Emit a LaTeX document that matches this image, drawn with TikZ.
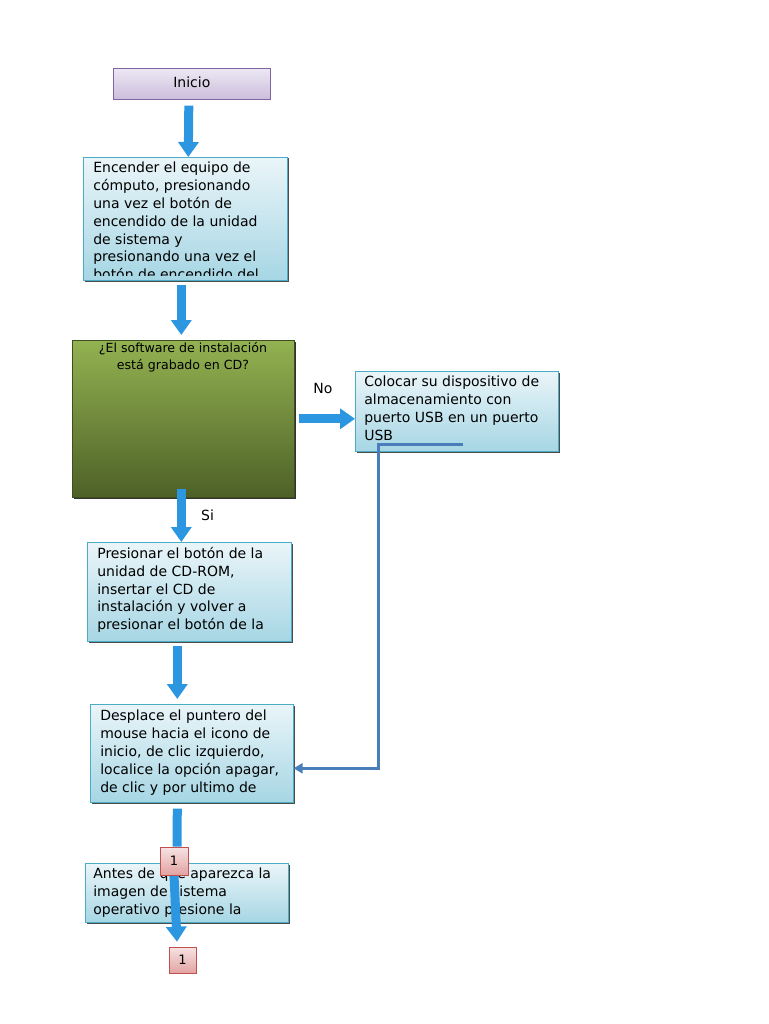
\documentclass[tikz,border=0pt]{standalone}
\usepackage{fontspec}
\setmainfont{DejaVu Sans}
\usepackage{tikz}
\usetikzlibrary{arrows.meta,shadows}
\definecolor{boxline}{HTML}{4BACC6}
\definecolor{boxtop}{HTML}{EAF5F9}
\definecolor{boxbot}{HTML}{A6D6E4}
\definecolor{flowblue}{HTML}{2C96E1}
\definecolor{linkblue}{HTML}{4A7EBB}
\definecolor{lilatop}{HTML}{EDE8F4}
\definecolor{lilabot}{HTML}{CBBEDC}
\definecolor{lilaline}{HTML}{8064A2}
\definecolor{greentop}{HTML}{93B251}
\definecolor{greenbot}{HTML}{4D6127}
\definecolor{pinktop}{HTML}{F7E3E3}
\definecolor{pinkbot}{HTML}{E2A3A2}
\definecolor{pinkline}{HTML}{C0504D}

\begin{document}
\begin{tikzpicture}[x=1pt,y=-1pt,semithick,
  stepbox/.style={draw=boxline,top color=boxtop,bottom color=boxbot,anchor=north west,inner sep=0pt,
    general shadow={shadow xshift=1.2pt,shadow yshift=-1.2pt,fill=black!70}},
  steptext/.style={anchor=north west,inner sep=0pt,align=left,font=\fontsize{14}{17.8}\selectfont},
  pagebox/.style={draw=pinkline,top color=pinktop,bottom color=pinkbot,inner sep=0pt,font=\fontsize{13}{14}\selectfont},
  bigarrow/.style={draw=flowblue,line width=9pt,-{Triangle[width=20pt,length=15pt]}},
  bigline/.style={draw=flowblue,line width=9pt},
  link/.style={draw=linkblue,line width=3pt,-{Triangle[width=10pt,length=9pt]}}]
\useasboundingbox (0,0) rectangle (768,1024);

% inicio
\node[draw=lilaline,top color=lilatop,bottom color=lilabot,anchor=north west,minimum width=157pt,
  minimum height=31pt,font=\fontsize{14}{15}\selectfont] (start) at (113,68) {\raisebox{3pt}{Inicio}};

% encender
\node[stepbox,minimum width=204pt,minimum height=123pt] (b1) at (83,157) {};
\begin{scope}
\clip (b1.north west) rectangle ([yshift=5pt]b1.south east);
\node[steptext] (t1) at (93,162) {Encender el equipo de\\cómputo, presionando\\una vez el botón de\\
  encendido de la unidad\\de sistema y\\presionando una vez el\\botón de encendido del};
\end{scope}

% pregunta
\node[draw=greenbot!80!black,top color=greentop,bottom color=greenbot,anchor=north west,
  minimum width=222pt,minimum height=157pt,inner sep=0pt,
  general shadow={shadow xshift=1.2pt,shadow yshift=-1.2pt,fill=black!80}] (dec) at (72,340) {};
\node[anchor=north,align=center,inner sep=0pt,font=\fontsize{12.6}{17}\selectfont] (q) at (183,342)
  {¿El software de instalación\\está grabado en CD?};

% usb
\node[stepbox,minimum width=203pt,minimum height=80pt] (usb) at (355,371) {};
\node[steptext] (t2) at (364,376) {Colocar su dispositivo de\\almacenamiento con\\puerto USB en un puerto\\USB};

% cd-rom
\node[stepbox,minimum width=204pt,minimum height=99pt] (b2) at (87,542) {};
\node[steptext] (t3) at (97,547) {Presionar el botón de la\\unidad de CD-ROM,\\insertar el CD de\\
  instalación y volver a\\presionar el botón de la};

% apagar
\node[stepbox,minimum width=203pt,minimum height=98pt] (b3) at (90,704) {};
\node[steptext] (t4) at (100,710) {Desplace el puntero del\\mouse hacia el icono de\\inicio, de clic izquierdo,\\
  localice la opción apagar,\\de clic y por ultimo de};

% antes de
\node[stepbox,minimum width=203pt,minimum height=59pt] (b4) at (85,863) {};
\node[steptext] (t5) at (93,868) {Antes de que aparezca la\\imagen de sistema\\operativo presione la};

% flechas
\draw[bigarrow] ([shift={(-3,6)}]start.south) -- ([xshift=3pt]b1.north);
\draw[bigarrow] ([shift={(-4,4)}]b1.south) -- ([shift={(-2,-5)}]dec.north);
\draw[bigarrow] ([xshift=4pt]dec.east) -- (dec.east -| usb.west) node[midway,above=17pt,xshift=-4pt,font=\fontsize{14}{15}\selectfont] (no) {No};
\draw[bigarrow] ([shift={(-2,-9)}]dec.south) -- ([xshift=-8pt]b2.north) node[pos=0.5,right=12pt,font=\fontsize{14}{15}\selectfont] (si) {Si};
\draw[bigarrow] ([shift={(-12,4)}]b2.south) -- ([shift={(-14.5,-5)}]b3.north);
\coordinate (usbtail) at (463,444);
\draw[link] (usbtail) -- ++(-85,0) |- ([yshift=-15pt]b3.east);

% conectores de pagina
\node[pagebox,minimum width=28pt,minimum height=28pt] (c1) at (174,861) {1};
\node[pagebox,minimum width=27pt,minimum height=26pt] (c2) at (182.5,960) {1};
\draw[bigline] ([shift={(-14.5,6)}]b3.south) -- ([xshift=3pt]c1.north);
\draw[bigarrow] (c1.south) -- ([shift={(-5.5,-5)}]c2.north);
\node[pagebox,minimum width=28pt,minimum height=28pt] (c1top) at (c1) {1};
\end{tikzpicture}
\end{document}
